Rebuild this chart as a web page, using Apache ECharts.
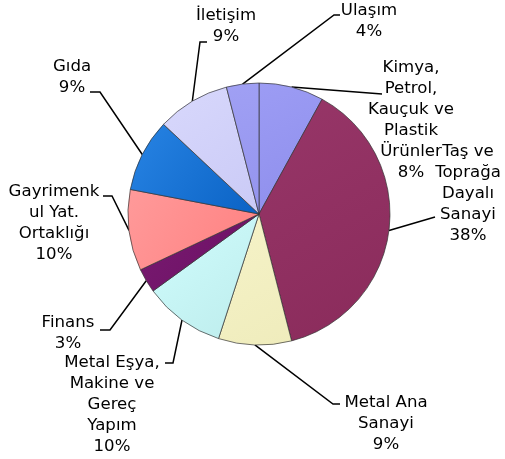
<!DOCTYPE html>
<html>
<head>
<meta charset="utf-8">
<script src="https://cdn.jsdelivr.net/npm/echarts@6/dist/echarts.min.js"></script>
<style>
html, body { margin: 0; padding: 0; background: #fff; }
#chart { width: 505px; height: 459px; }
</style>
</head>
<body>
<div id="chart"></div>
<script>
var sectors = [
	'Kimya,\nPetrol,\nKauçuk ve\nPlastik\nÜrünler',
	'Taş ve\nToprağa\nDayalı\nSanayi',
	'Metal Ana\nSanayi',
	'Metal Eşya,\nMakine ve\nGereç\nYapım',
	'Finans',
	'Gayrimenk\nul Yat.\nOrtaklığı',
	'Gıda',
	'İletişim',
	'Ulaşım'
];
var shares = [8, 38, 9, 10, 3, 10, 9, 9, 4];
var colors = [
	['#9c9cf4', '#8e8eec'],
	['#973668', '#8a2b5b'],
	['#f6f3c8', '#efecbc'],
	['#d0fdfd', '#bdecec'],
	['#781a70', '#6c1064'],
	['#ff9a9a', '#ff8080'],
	['#2884e4', '#0a62c4'],
	['#d8d8fc', '#cacaf6'],
	['#a0a0f4', '#9494ee']
];

// label block centres and leader elbows (layout only)
var labelPos = [[411, 120], [468, 194], [386, 424], [112, 405], [68, 333], [54, 223], [72, 77], [226, 26], [369, 21]];
var elbows = [[382, 94], [435, 217], [333, 404], [173, 363], [110, 330], [112, 196], [100, 92], [200, 42], [334, 15]];
var ends = [[382, 94], [435, 217], [340, 404], [165, 363], [100, 330], [103, 196], [90, 92], [207, 42], [340, 15]];

var data = [];
for (let i = 0; i < sectors.length; i++) {
	data.push({
		name: sectors[i],
		value: shares[i],
		itemStyle: {
			color: {
				type: 'linear', x: 0, y: 0, x2: 1, y2: 1,
				colorStops: [
					{ offset: 0, color: colors[i][0] },
					{ offset: 1, color: colors[i][1] }
				]
			}
		}
	});
}

let chart = echarts.init(document.getElementById('chart'));
chart.setOption({
	animation: false,
	series: [
		{
			type: 'pie',
			center: [259, 214],
			radius: [0, 131],
			startAngle: 90,
			clockwise: true,
			data: data,
			itemStyle: {
				borderColor: '#333',
				borderWidth: 0.7
			},
			emphasis: { disabled: true },
			label: {
				show: true,
				position: 'outside',
				formatter: '{b}\n{c}%',
				fontFamily: 'DejaVu Sans',
				fontSize: 16.6,
				lineHeight: 21,
				color: '#000',
				align: 'center'
			},
			labelLine: {
				show: true,
				length: 10,
				length2: 10,
				lineStyle: { color: '#000', width: 1.5 }
			},
			labelLayout: function (params) {
				let i = params.dataIndex;
				let start = params.labelLinePoints ? params.labelLinePoints[0] : elbows[i];
				return {
					x: labelPos[i][0],
					y: labelPos[i][1],
					align: 'center',
					verticalAlign: 'middle',
					labelLinePoints: [start, elbows[i], ends[i]]
				};
			}
		}
	]
});
</script>
</body>
</html>
